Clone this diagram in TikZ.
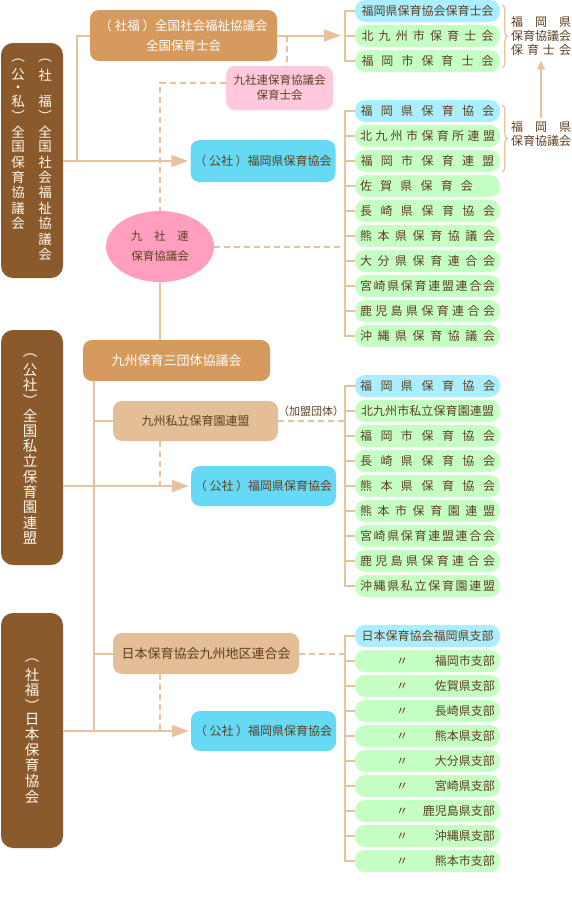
\documentclass[tikz,border=0pt]{standalone}
\usepackage{fontspec}
\setmainfont{Noto Sans CJK JP}
\usetikzlibrary{arrows.meta,shapes.geometric,decorations.pathreplacing}

\definecolor{barkc}{HTML}{8A5A2C}
\definecolor{orangec}{HTML}{D59A5C}
\definecolor{tanc}{HTML}{E4BE96}
\definecolor{linec}{HTML}{E8C29C}
\definecolor{cyanc}{HTML}{66D9F4}
\definecolor{skyc}{HTML}{AAEEFF}
\definecolor{greenc}{HTML}{C6FFC4}
\definecolor{rosec}{HTML}{FFC8DC}
\definecolor{pinkc}{HTML}{FF9EBE}
\definecolor{inkc}{HTML}{5C4020}
\definecolor{creamc}{HTML}{FFF8EE}

% spread the characters of #2 over the width #1
\makeatletter
\def\spr@loop#1#2\spr@end{#1\ifx\relax#2\relax\else\hfill\spr@loop#2\spr@end\fi}
\newcommand\spr[2]{\makebox[#1][s]{\spr@loop#2\spr@end}}
\makeatother

\begin{document}
\begin{tikzpicture}[
    % one unit is one pixel of the chart, y counts downwards
    x={(1pt,0pt)},
    y={(0pt,-1pt)},
    % --- connectors ---
    link/.style={draw=linec, line width=2pt},
    dlink/.style={link, dash pattern=on 6pt off 4pt},
    toarrow/.style={-{Triangle[length=17pt,width=12pt]}, shorten >=2pt},
    curly/.style={draw=linec, line width=1.2pt, decorate, decoration={brace, amplitude=5pt}},
    % --- boxes ---
    box/.style={rounded corners=9pt, inner sep=0pt, align=center, text=inkc, font=\fontsize{12.5}{15}\selectfont},
    barkbox/.style={box, rounded corners=12pt, fill=barkc, minimum width=62pt, minimum height=235pt},
    orgbox/.style={box, fill=orangec, text=white},
    tanbox/.style={box, fill=tanc},
    bluebox/.style={box, fill=cyanc, minimum width=145pt, minimum height=41pt, font=\fontsize{12}{15}\selectfont},
    item/.style={box, rounded corners=10pt, fill=greenc, minimum width=145pt, minimum height=22pt, font=\fontsize{12}{14}\selectfont},
    firstitem/.style={item, fill=skyc},
    vch/.style={inner sep=0pt, text=creamc, font=\fontsize{#1}{#1}\selectfont},
    vch/.default=14
]
    \useasboundingbox (0,0) rectangle (572,918);

    % --- The three national bodies, written top to bottom ---
    \node[barkbox] (zenho) at (32,160.5) {};
    \node[barkbox] (shiritsu) at (32,447.5) {};
    \node[barkbox] (nippo) at (32,730.5) {};

    \foreach \ch/\yy in {︵/61,社/75,福/101,︶/116,全/132,国/147,社/162,会/177,福/192,祉/208,協/223,議/239,会/254}
        \node[vch=13.5] (zenshaCol-\yy) at (45,\yy) {\ch};
    \foreach \ch/\yy in {︵/61,公/75,・/89,私/101,︶/116,全/132,国/147,保/162,育/177,協/192,議/208,会/223}
        \node[vch=13.5] (zenhoCol-\yy) at (18,\yy) {\ch};
    \foreach \ch/\yy in {︵/356,公/370,社/385,︶/400,全/416,国/431,私/446,立/461,保/477,育/492,園/507,連/523,盟/538}
        \node[vch=14.5] (shiritsuCol-\yy) at (30,\yy) {\ch};
    \foreach \ch/\yy in {︵/661,社/675,福/690,︶/705,日/719,本/734,保/750,育/765,協/781,会/797}
        \node[vch=14.5] (nippoCol-\yy) at (32,\yy) {\ch};

    % --- Middle column ---
    \node[orgbox, minimum width=187pt, minimum height=51pt, font=\fontsize{12.5}{20}\selectfont] (hoikushikai) at (183.5,35.5)
        {（ 社福 ）全国社会福祉協議会\\全国保育士会};
    \node[box, fill=rosec, minimum width=107pt, minimum height=44pt, font=\fontsize{11.5}{15}\selectfont] (kyushaHoikushi) at (279.5,88)
        {九社連保育協議会\\保育士会};
    \node[bluebox, minimum height=42pt] (fukuokaA) at (263,161) {（ 公社 ）福岡県保育協会};
    \node[ellipse, fill=pinkc, minimum width=108pt, minimum height=71pt, inner sep=0pt, align=center, text=inkc,
        font=\fontsize{11.5}{20}\selectfont] (kyusharen) at (160,246.5) {\spr{58pt}{九社連}\\保育協議会};

    \node[orgbox, minimum width=187pt, minimum height=41pt, font=\fontsize{13}{15}\selectfont] (sandantai) at (176.5,360.5) {九州保育三団体協議会};
    \node[tanbox, minimum width=165pt, minimum height=40pt, font=\fontsize{12}{15}\selectfont] (kyushiren) at (195.5,421) {九州私立保育園連盟};
    \node[bluebox, minimum height=40pt] (fukuokaB) at (263.5,486) {（ 公社 ）福岡県保育協会};
    \node[text=inkc, inner sep=0pt, font=\fontsize{11}{13}\selectfont] (kamei) at (311,411) {（加盟団体）};

    \node[tanbox, minimum width=186pt, minimum height=41pt, font=\fontsize{13}{15}\selectfont] (nippoKyushu) at (206,653.5) {日本保育協会九州地区連合会};
    \node[bluebox, minimum height=40pt] (fukuokaC) at (263.5,731) {（ 公社 ）福岡県保育協会};

    % --- Right column: member lists ---
    \foreach \i/\st/\txt in {
        1/firstitem/{福岡県保育協会保育士会},
        2/item/{\spr{132pt}{北九州市保育士会}},
        3/item/{\spr{132pt}{福岡市保育士会}}}
        \node[\st] (hoikushi-\i) at (427.5,{25*\i-14}) {\txt};

    \foreach \i/\st/\txt in {
        1/firstitem/{\spr{134pt}{福岡県保育協会}},
        2/item/{\spr{135pt}{北九州市保育所連盟}},
        3/item/{\spr{134pt}{福岡市保育連盟}},
        4/item/{\makebox[135pt][l]{\spr{113pt}{佐賀県保育会}}},
        5/item/{\spr{135pt}{長崎県保育協会}},
        6/item/{\spr{135pt}{熊本県保育協議会}},
        7/item/{\spr{135pt}{大分県保育連合会}},
        8/item/{\spr{135pt}{宮崎県保育連盟連合会}},
        9/item/{\spr{135pt}{鹿児島県保育連合会}},
        10/item/{\spr{135pt}{沖縄県保育協議会}}}
        \node[\st] (kyusha-\i) at (427.5,{25*\i+86}) {\txt};

    \foreach \i/\st/\txt in {
        1/firstitem/{\spr{135pt}{福岡県保育協会}},
        2/item/{\spr{133pt}{北九州市私立保育園連盟}},
        3/item/{\spr{135pt}{福岡市保育協会}},
        4/item/{\spr{135pt}{長崎県保育協会}},
        5/item/{\spr{135pt}{熊本県保育協会}},
        6/item/{\spr{135pt}{熊本市保育園連盟}},
        7/item/{\spr{135pt}{宮崎県保育連盟連合会}},
        8/item/{\spr{135pt}{鹿児島県保育連合会}},
        9/item/{\spr{135pt}{沖縄県私立保育園連盟}}}
        \node[\st] (shiren-\i) at (427.5,{25*\i+361}) {\txt};

    \node[firstitem] (shibu-1) at (427.5,636) {日本保育協会福岡県支部};
    \foreach \i/\txt in {2/福岡市支部,3/佐賀県支部,4/長崎県支部,5/熊本県支部,6/大分県支部,
                         7/宮崎県支部,8/鹿児島県支部,9/沖縄県支部,10/熊本市支部}
        \node[item] (shibu-\i) at (427.5,{25*\i+611}) {\makebox[135pt][s]{\hspace{36pt}〃\hfill\txt}};

    % --- Brackets in front of the lists ---
    \draw[link] (hoikushi-1.west) -- ++(-10,0) -- ([xshift=-10pt]hoikushi-3.west) -- (hoikushi-3.west);
    \draw[link] (hoikushi-2.west) -- ++(-10,0);
    \draw[link] (kyusha-1.west) -- ++(-10,0) -- ([xshift=-10pt]kyusha-10.west) -- (kyusha-10.west);
    \foreach \i in {2,...,9} \draw[link] (kyusha-\i.west) -- ++(-10,0);
    \draw[link] (shiren-1.west) -- ++(-10,0) -- ([xshift=-10pt]shiren-9.west) -- (shiren-9.west);
    \foreach \i in {2,...,8} \draw[link] (shiren-\i.west) -- ++(-10,0);
    \draw[link] (shibu-1.west) -- ++(-10,0) -- ([xshift=-10pt]shibu-10.west) -- (shibu-10.west);
    \foreach \i in {2,...,9} \draw[link] (shibu-\i.west) -- ++(-10,0);

    % --- Braces and the Fukuoka groupings ---
    \draw[curly] ([shift={(2,5)}]hoikushi-1.north east) -- ([shift={(2,-4)}]hoikushi-3.south east);
    \draw[curly] ([shift={(2,5)}]kyusha-1.north east) -- ([shift={(2,0)}]kyusha-3.south east);
    \node[text=inkc, align=center, inner sep=0pt, font=\fontsize{12}{14}\selectfont] (pref-hoikushi) at (541,36)
        {\spr{60pt}{福岡県}\\保育協議会\\\spr{60pt}{保育士会}};
    \node[text=inkc, align=center, inner sep=0pt, font=\fontsize{12}{14}\selectfont] (pref-kyogikai) at (541,134)
        {\spr{60pt}{福岡県}\\保育協議会};
    \draw[draw=linec, line width=1.5pt, -{Triangle[length=9pt,width=8pt]}, shorten <=3pt, shorten >=5pt]
        (pref-kyogikai.north) -- (pref-hoikushi.south);

    % --- Connectors ---
    \coordinate (jointA) at (77,0);
    \coordinate (dropA) at (287,0);
    \coordinate (brk) at (345,0);
    \coordinate (spine) at (94,0);
    \coordinate (dropB) at (160,0);

    \draw[link] (jointA |- fukuokaA.west) -- (jointA |- hoikushikai.west) -- (hoikushikai.west);
    \draw[link, toarrow] (zenho.east |- fukuokaA.west) -- (fukuokaA.west);
    \draw[link, toarrow, shorten >=4pt] (hoikushikai.east) -- (hoikushikai.east -| brk);
    \draw[dlink] (dropA |- hoikushikai.east) -- (dropA |- kyushaHoikushi.north);
    \draw[dlink] ([yshift=5pt]kyushaHoikushi.west) -| (kyusharen.north);
    \draw[dlink] (kyusharen.east) -- (kyusharen.east -| brk);
    \draw[link] (kyusharen.south) -- (kyusharen.south |- sandantai.north);

    \draw[link] (spine |- sandantai.south) -- (spine |- fukuokaC.west);
    \draw[link] (spine |- kyushiren.west) -- (kyushiren.west);
    \draw[link] (spine |- nippoKyushu.west) -- (nippoKyushu.west);

    \draw[link, toarrow] (shiritsu.east |- fukuokaB.west) -- (fukuokaB.west);
    \draw[dlink] (dropB |- kyushiren.south) -- (dropB |- fukuokaB.west);
    \draw[dlink] (kyushiren.east) -- (kyushiren.east -| brk);

    \draw[link, toarrow] (nippo.east |- fukuokaC.west) -- (fukuokaC.west);
    \draw[dlink] (dropB |- nippoKyushu.south) -- (dropB |- fukuokaC.west);
    \draw[dlink] (nippoKyushu.east) -- (nippoKyushu.east -| brk);
\end{tikzpicture}
\end{document}
